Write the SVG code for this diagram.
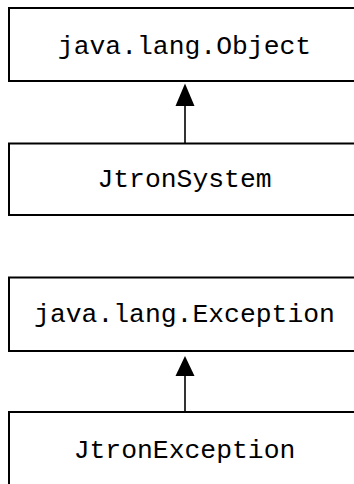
<svg xmlns="http://www.w3.org/2000/svg" width="354" height="484" viewBox="0 0 354 484">
<style>
.box{fill:#fff;stroke:#000;stroke-width:2}
.lbl{font-family:"Liberation Mono","Courier New",monospace;font-size:26.4px;fill:#000;text-anchor:middle}
.conn{stroke:#000;stroke-width:1.6;fill:none}
.head{fill:#000;stroke:none}
</style>
<rect width="354" height="484" fill="#fff"/>
<g id="connectors">
<line class="conn" x1="185" y1="106" x2="185" y2="143.5"/>
<polygon class="head" points="185,83.5 175.5,106 194.5,106"/>
<line class="conn" x1="185" y1="376" x2="185" y2="412"/>
<polygon class="head" points="185,356 175.5,376 194.5,376"/>
</g>
<g id="object">
<rect class="box" x="9" y="8" width="360" height="73"/>
<text class="lbl" x="184.5" y="54">java.lang.Object</text>
</g>
<g id="jtronsystem">
<rect class="box" x="9" y="143.5" width="360" height="71.5"/>
<text class="lbl" x="184.5" y="187">JtronSystem</text>
</g>
<g id="exception">
<rect class="box" x="9" y="277.5" width="360" height="73.5"/>
<text class="lbl" x="184.5" y="322">java.lang.Exception</text>
</g>
<g id="jtronexception">
<rect class="box" x="9" y="412" width="360" height="90"/>
<text class="lbl" x="184.5" y="458">JtronException</text>
</g>
</svg>
